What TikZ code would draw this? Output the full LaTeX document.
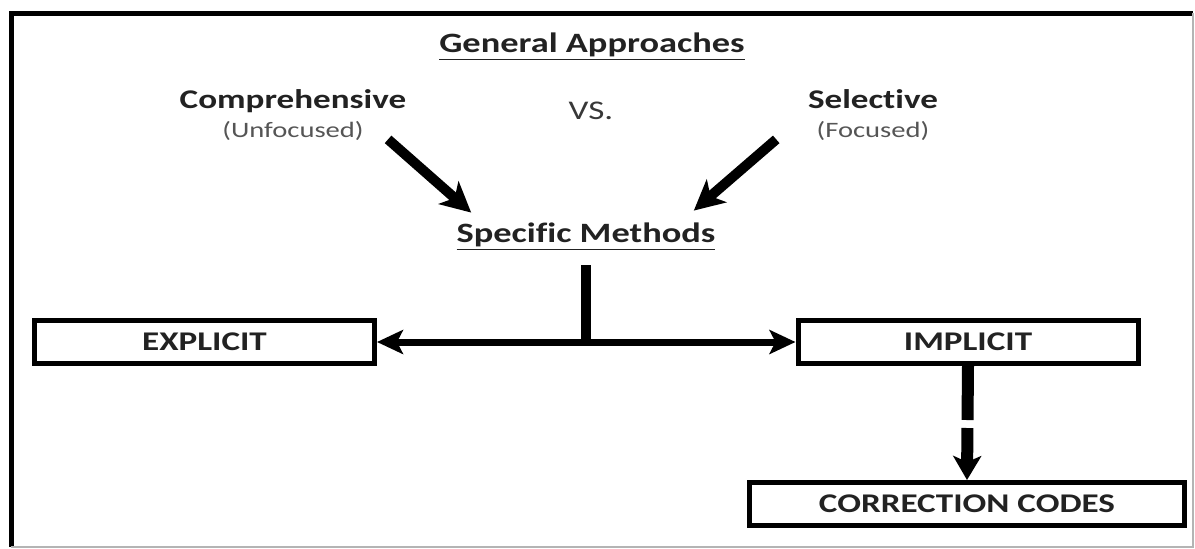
\documentclass[tikz,border=0pt]{standalone}
\usepackage{fontspec}
\setmainfont{Carlito}[FakeStretch=1.3, Ligatures=NoCommon]
\usetikzlibrary{arrows.meta,positioning,calc}
\definecolor{inkgray}{HTML}{222222}
\definecolor{softgray}{HTML}{555555}
\definecolor{framegray}{HTML}{B4B4B4}

\begin{document}
\begin{tikzpicture}[
    x=0.5pt,
    y=-0.5pt,
    heading/.style={
        font=\fontsize{14}{17}\selectfont\bfseries,
        text=inkgray,
        inner sep=1pt
    },
    approach/.style={
        font=\fontsize{13.5}{16}\selectfont\bfseries,
        text=inkgray,
        text height=10pt,
        text depth=3pt,
        inner sep=1pt
    },
    note/.style={
        font=\fontsize{11}{13}\selectfont,
        text=softgray,
        inner sep=1pt
    },
    box/.style={
        rectangle,
        draw=black,
        line width=2.5pt,
        minimum width=170pt,
        minimum height=21.5pt,
        inner sep=0pt,
        font=\fontsize{13.5}{16}\selectfont\bfseries,
        text=inkgray
    },
    bigarrow/.style={
        -{Stealth[length=15pt, width=15pt, inset=4pt]},
        line width=5pt
    },
    branch/.style={
        {Stealth[length=13pt, width=12pt, inset=3pt]}-{Stealth[length=13pt, width=12pt, inset=3pt]},
        line width=3.5pt
    },
    hint/.style={
        -{Stealth[length=12pt, width=14pt, inset=3pt]},
        line width=6pt,
        dash pattern=on 27pt off 4pt
    }
]
\useasboundingbox (0,0) rectangle (1195,548);

% Frame
\draw[line width=2.5pt] (11,547) -- (11,13) -- (1193,13);
\draw[framegray, line width=0.6pt] (1193,13) -- (1193,547) -- (11,547);

% General approaches
\node[heading] (general) at (592,47) {\underline{General Approaches}};
\node[approach] (comp) at (293,101) {Comprehensive};
\node[note, below=1.5pt of comp] (unfocused) {(Unfocused)};
\node[approach, font=\fontsize{13.5}{16}\selectfont, text=inkgray!90] (vs) at (591,112) {VS.};
\node[approach] (sel) at (873,101) {Selective};
\node[note, below=1.5pt of sel] (focused) {(Focused)};

% Specific methods
\node[heading] (methods) at (586,237) {\underline{Specific Methods}};

% Boxes
\node[box] (explicit) at (204.5,342) {EXPLICIT};
\node[box] (implicit) at (968,342) {IMPLICIT};
\node[box, minimum width=217.5pt] (codes) at (967,504) {CORRECTION CODES};

% Arrows
\draw[bigarrow] ($(unfocused.east)+(22,8)$) -- ($(methods.north west)+(17,-8)$);
\draw[bigarrow] ($(focused.west)+(-38,8)$) -- ($(methods.north east)+(-24,-10)$);
\coordinate (fork) at (methods.south |- explicit.east);
\draw[line width=5pt] ([yshift=-6pt]methods.south) -- ([yshift=-1.75pt]fork);
\draw[branch] (explicit.east) -- (implicit.west);
\draw[hint] (implicit.south) -- (codes.north);

\end{tikzpicture}
\end{document}
